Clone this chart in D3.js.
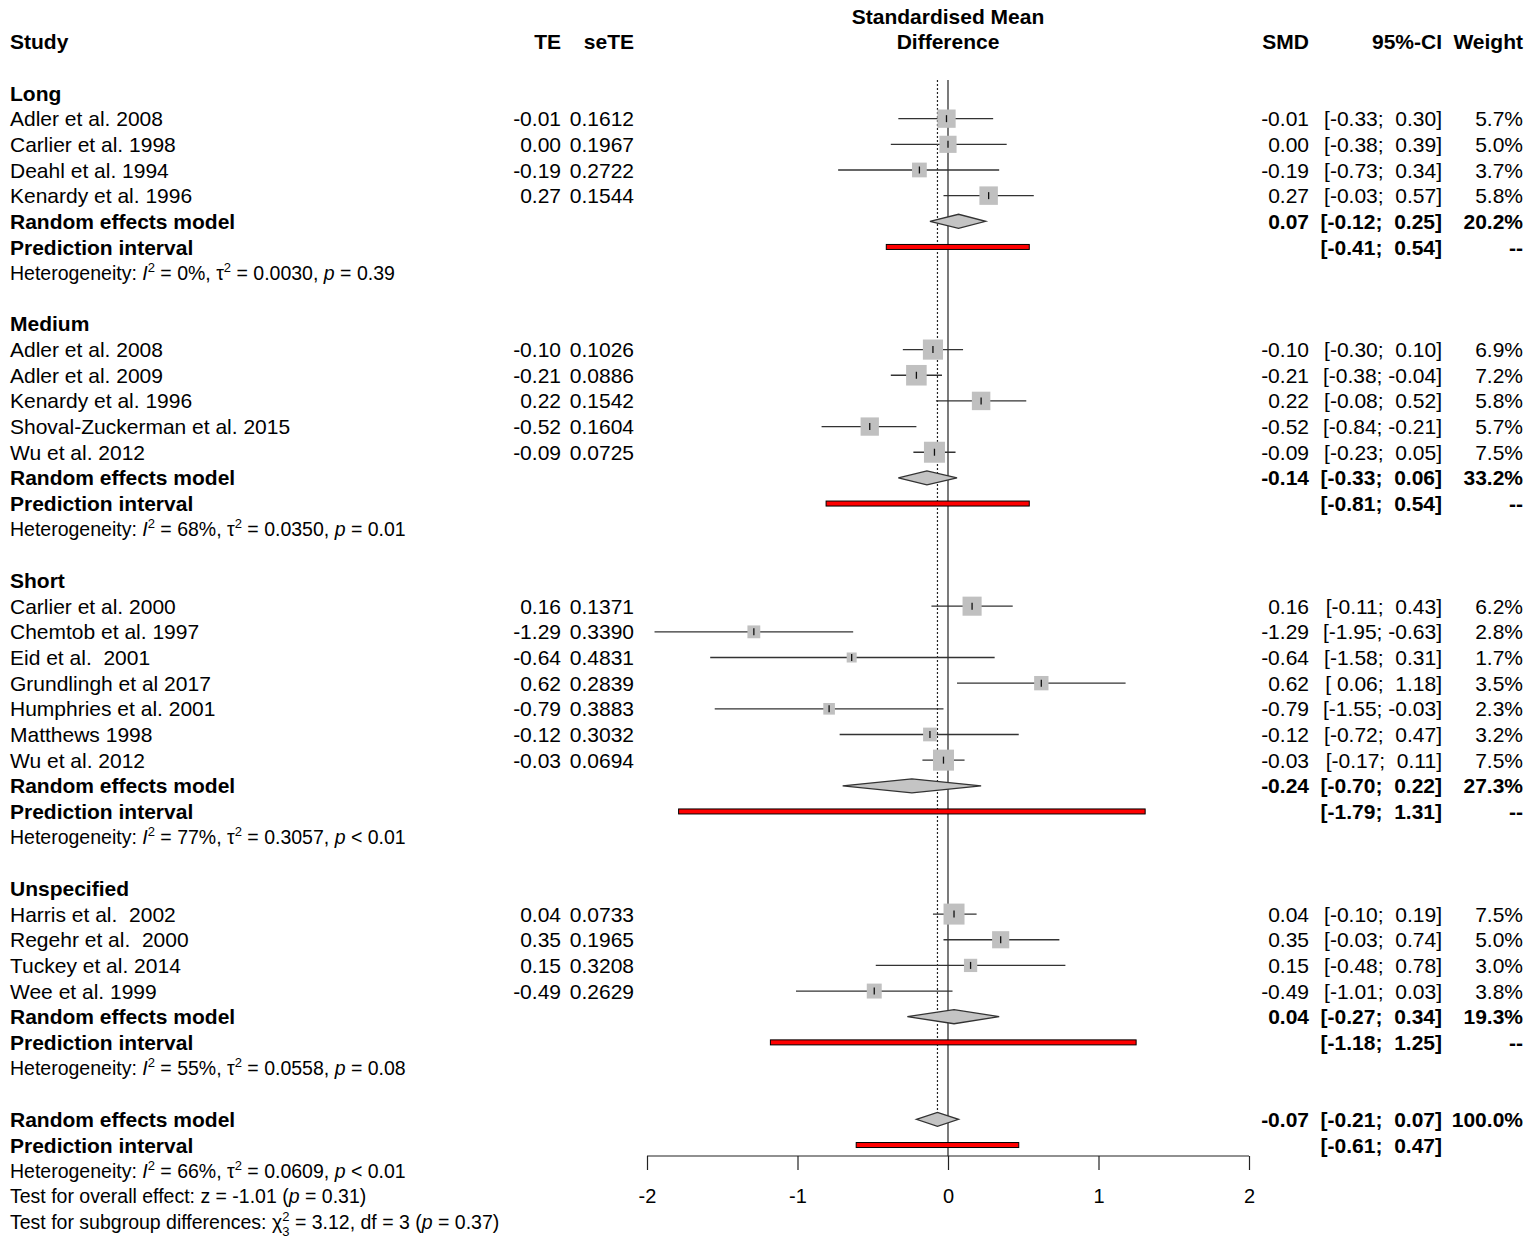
<!DOCTYPE html>
<html>
<head>
<meta charset="utf-8">
<script src="https://cdn.jsdelivr.net/npm/d3@7"></script>
<style>
  body { margin: 0; background: white; }
  text { font-family: "Liberation Sans", Arial, sans-serif; fill: black; white-space: pre; }
</style>
</head>
<body>
<script>

// subgroup data
const groupNames = ["Long", "Medium", "Short", "Unspecified"];
const studyGroup = [0, 0, 0, 0, 1, 1, 1, 1, 1, 2, 2, 2, 2, 2, 2, 2, 3, 3, 3, 3];
const studyNames = [
  "Adler et al. 2008", "Carlier et al. 1998", "Deahl et al. 1994", "Kenardy et al. 1996",
  "Adler et al. 2008", "Adler et al. 2009", "Kenardy et al. 1996", "Shoval-Zuckerman et al. 2015", "Wu et al. 2012",
  "Carlier et al. 2000", "Chemtob et al. 1997", "Eid et al.  2001", "Grundlingh et al 2017", "Humphries et al. 2001", "Matthews 1998", "Wu et al. 2012",
  "Harris et al.  2002", "Regehr et al.  2000", "Tuckey et al. 2014", "Wee et al. 1999"
];
const te    = [-0.01, 0.00, -0.19, 0.27, -0.10, -0.21, 0.22, -0.52, -0.09, 0.16, -1.29, -0.64, 0.62, -0.79, -0.12, -0.03, 0.04, 0.35, 0.15, -0.49];
const seTE  = [0.1612, 0.1967, 0.2722, 0.1544, 0.1026, 0.0886, 0.1542, 0.1604, 0.0725, 0.1371, 0.3390, 0.4831, 0.2839, 0.3883, 0.3032, 0.0694, 0.0733, 0.1965, 0.3208, 0.2629];
const ciLow = [-0.33, -0.38, -0.73, -0.03, -0.30, -0.38, -0.08, -0.84, -0.23, -0.11, -1.95, -1.58, 0.06, -1.55, -0.72, -0.17, -0.10, -0.03, -0.48, -1.01];
const ciHigh = [0.30, 0.39, 0.34, 0.57, 0.10, -0.04, 0.52, -0.21, 0.05, 0.43, -0.63, 0.31, 1.18, -0.03, 0.47, 0.11, 0.19, 0.74, 0.78, 0.03];
const weights = [5.7, 5.0, 3.7, 5.8, 6.9, 7.2, 5.8, 5.7, 7.5, 6.2, 2.8, 1.7, 3.5, 2.3, 3.2, 7.5, 7.5, 5.0, 3.0, 3.8];

// random effects per subgroup
const remEst = [0.07, -0.14, -0.24, 0.04];
const remLow = [-0.12, -0.33, -0.70, -0.27];
const remHigh = [0.25, 0.06, 0.22, 0.34];
const remWeight = [20.2, 33.2, 27.3, 19.3];
const piLow = [-0.41, -0.81, -1.79, -1.18];
const piHigh = [0.54, 0.54, 1.31, 1.25];
const hetI2 = [0, 68, 77, 55];
const hetTau2 = [0.0030, 0.0350, 0.3057, 0.0558];
const hetPop = ["=", "=", "<", "="];
const hetP = [0.39, 0.01, 0.01, 0.08];

// overall
const overallEst = -0.07, overallLow = -0.21, overallHigh = 0.07, overallWeight = 100.0;
const overallPiLow = -0.61, overallPiHigh = 0.47;
const overallI2 = 66, overallTau2 = 0.0609, overallPop = "<", overallP = 0.01;
const zValue = -1.01, zP = 0.31;
const chi2 = 3.12, chiDf = 3, chiP = 0.37;

const xTicks = [-2, -1, 0, 1, 2];

// ---------------------------------------------------------------

var width = 1535, height = 1250;
var fs = 21, fsHet = 19.5;

var svg = d3.select("body").append("svg")
    .attr("width", width)
    .attr("height", height);

var x = d3.scaleLinear().domain([-2, 2]).range([647, 1249]);
var y = d3.scaleLinear().domain([0, 44]).range([93, 1222]);
var box = d3.scaleSqrt().domain([0, 7.5]).range([0, 21]);

var colStudy = 10, colTE = 561, colSE = 634, colSMD = 1309, colCI = 1442, colW = 1523;
var axisY = 1156, topY = 80;

var f2 = v => v.toFixed(2);
var pad5 = v => (v < 0 ? "" : " ") + f2(v);
var ci = (lo, hi) => "[" + pad5(lo) + "; " + pad5(hi) + "]";

function txt(xp, yp, s, anchor, bold, size) {
  return svg.append("text")
    .attr("x", xp).attr("y", yp)
    .attr("dy", "0.36em")
    .attr("text-anchor", anchor || "start")
    .style("font-weight", bold ? "bold" : "normal")
    .style("font-size", (size || fs) + "px")
    .text(s);
}

// het line with superscripts
function hetLine(yp, i2, tau2, pop, p) {
  var t = txt(colStudy, yp, "Heterogeneity: ", "start", false, fsHet);
  t.append("tspan").style("font-style", "italic").text("I");
  t.append("tspan").attr("dy", -8).style("font-size", "13px").text("2");
  t.append("tspan").attr("dy", 8).text(" = " + i2 + "%, \u03c4");
  t.append("tspan").attr("dy", -8).style("font-size", "13px").text("2");
  t.append("tspan").attr("dy", 8).text(" = " + tau2.toFixed(4) + ", ");
  t.append("tspan").style("font-style", "italic").text("p");
  t.append("tspan").text(" " + pop + " " + f2(p));
}

// headers
txt(colStudy, y(-2), "Study", "start", true);
txt(colTE, y(-2), "TE", "end", true);
txt(colSE, y(-2), "seTE", "end", true);
txt(x(0), y(-3), "Standardised Mean", "middle", true);
txt(x(0), y(-2), "Difference", "middle", true);
txt(colSMD, y(-2), "SMD", "end", true);
txt(colCI, y(-2), "95%-CI", "end", true);
txt(colW, y(-2), "Weight", "end", true);

// reference lines
svg.append("line")
  .attr("x1", x(0)).attr("x2", x(0))
  .attr("y1", topY).attr("y2", axisY)
  .attr("stroke", "#222").attr("stroke-width", 1.2);
svg.append("line")
  .attr("x1", x(overallEst)).attr("x2", x(overallEst))
  .attr("y1", topY).attr("y2", y(40) - 6.5)
  .attr("stroke", "#222").attr("stroke-width", 1.2)
  .attr("stroke-dasharray", "2,2");

var lineGen = d3.line();

function diamond(yp, est, lo, hi) {
  svg.append("path")
    .attr("d", lineGen([[x(lo), yp], [x(est), yp - 7], [x(hi), yp], [x(est), yp + 7]]) + "Z")
    .attr("fill", "#c4c4c4").attr("stroke", "#333").attr("stroke-width", 1.3);
}

function predInt(yp, lo, hi) {
  svg.append("rect")
    .attr("x", x(lo)).attr("y", yp - 2.5)
    .attr("width", x(hi) - x(lo)).attr("height", 5)
    .attr("fill", "#ff0000").attr("stroke", "black").attr("stroke-width", 1);
}

var row = 0;
groupNames.forEach(function(g, gi) {
  txt(colStudy, y(row), g, "start", true);
  row++;
  studyNames.forEach(function(name, i) {
    if (studyGroup[i] !== gi) return;
    var yp = y(row);
    txt(colStudy, yp, name);
    txt(colTE, yp, f2(te[i]), "end");
    txt(colSE, yp, seTE[i].toFixed(4), "end");
    txt(colSMD, yp, f2(te[i]), "end");
    txt(colCI, yp, ci(ciLow[i], ciHigh[i]), "end");
    txt(colW, yp, weights[i].toFixed(1) + "%", "end");

    svg.append("line")
      .attr("x1", x(ciLow[i])).attr("x2", x(ciHigh[i]))
      .attr("y1", yp).attr("y2", yp)
      .attr("stroke", "#333").attr("stroke-width", 1.3);
    var s = box(weights[i]);
    svg.append("rect")
      .attr("x", x(te[i]) - s / 2).attr("y", yp - s / 2)
      .attr("width", s).attr("height", s)
      .attr("fill", "#c0c0c0");
    svg.append("line")
      .attr("x1", x(te[i])).attr("x2", x(te[i]))
      .attr("y1", yp - 3.5).attr("y2", yp + 3.5)
      .attr("stroke", "#111").attr("stroke-width", 1.3);
    row++;
  });

  // random effects model
  txt(colStudy, y(row), "Random effects model", "start", true);
  txt(colSMD, y(row), f2(remEst[gi]), "end", true);
  txt(colCI, y(row), ci(remLow[gi], remHigh[gi]), "end", true);
  txt(colW, y(row), remWeight[gi].toFixed(1) + "%", "end", true);
  diamond(y(row), remEst[gi], remLow[gi], remHigh[gi]);
  row++;

  // prediction interval
  txt(colStudy, y(row), "Prediction interval", "start", true);
  txt(colCI, y(row), ci(piLow[gi], piHigh[gi]), "end", true);
  txt(colW, y(row), "--", "end", true);
  predInt(y(row), piLow[gi], piHigh[gi]);
  row++;

  hetLine(y(row), hetI2[gi], hetTau2[gi], hetPop[gi], hetP[gi]);
  row += 2;
});

// overall
txt(colStudy, y(row), "Random effects model", "start", true);
txt(colSMD, y(row), f2(overallEst), "end", true);
txt(colCI, y(row), ci(overallLow, overallHigh), "end", true);
txt(colW, y(row), overallWeight.toFixed(1) + "%", "end", true);
diamond(y(row), overallEst, overallLow, overallHigh);
row++;
txt(colStudy, y(row), "Prediction interval", "start", true);
txt(colCI, y(row), ci(overallPiLow, overallPiHigh), "end", true);
predInt(y(row), overallPiLow, overallPiHigh);
row++;
hetLine(y(row), overallI2, overallTau2, overallPop, overallP);
row++;

var t1 = txt(colStudy, y(row), "Test for overall effect: z = " + f2(zValue) + " (", "start", false, fsHet);
t1.append("tspan").style("font-style", "italic").text("p");
t1.append("tspan").text(" = " + f2(zP) + ")");
row++;

var t2 = txt(colStudy, y(row), "Test for subgroup differences: \u03c7", "start", false, fsHet);
t2.append("tspan").attr("dy", -8).style("font-size", "13px").text("2");
t2.append("tspan").attr("dx", -7.2).attr("dy", 15).style("font-size", "13px").text(String(chiDf));
t2.append("tspan").attr("dy", -7).text(" = " + f2(chi2) + ", df = " + chiDf + " (");
t2.append("tspan").style("font-style", "italic").text("p");
t2.append("tspan").text(" = " + f2(chiP) + ")");

// x axis
var axis = svg.append("g")
  .attr("transform", "translate(0," + axisY + ")")
  .call(d3.axisBottom(x).tickValues(xTicks).tickSize(14).tickPadding(19).tickFormat(d => String(d).replace("\u2212", "-")));
axis.select(".domain").attr("stroke", "#222").attr("stroke-width", 1.2)
  .attr("d", "M" + x(-2) + ",0H" + x(2));
axis.selectAll(".tick line").attr("stroke", "#222").attr("stroke-width", 1.2);
axis.selectAll(".tick text")
  .style("font-size", "20px")
  .style("font-family", "'Liberation Sans', Arial, sans-serif")
  .attr("fill", "black");

</script>
</body>
</html>
